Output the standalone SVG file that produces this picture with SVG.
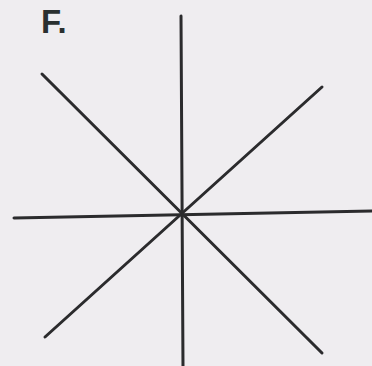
<svg xmlns="http://www.w3.org/2000/svg" width="372" height="366" viewBox="0 0 372 366">
<style>
.ln{stroke:#2b2b2d;stroke-width:3;stroke-linecap:round;fill:none}
.lbl{font-family:"Liberation Sans",Arial,sans-serif;font-weight:bold;font-size:33px;fill:#2a3030}
</style>
<rect width="372" height="366" fill="#efedf0"/>
<g id="label"><text class="lbl" x="41" y="33">F.</text></g>
<g id="connectors">
<line class="ln" x1="181" y1="16" x2="183" y2="366"/>
<line class="ln" x1="14" y1="218" x2="372" y2="211"/>
<line class="ln" x1="42" y1="74" x2="322" y2="353"/>
<line class="ln" x1="45" y1="337" x2="322" y2="87"/>
</g>
</svg>
